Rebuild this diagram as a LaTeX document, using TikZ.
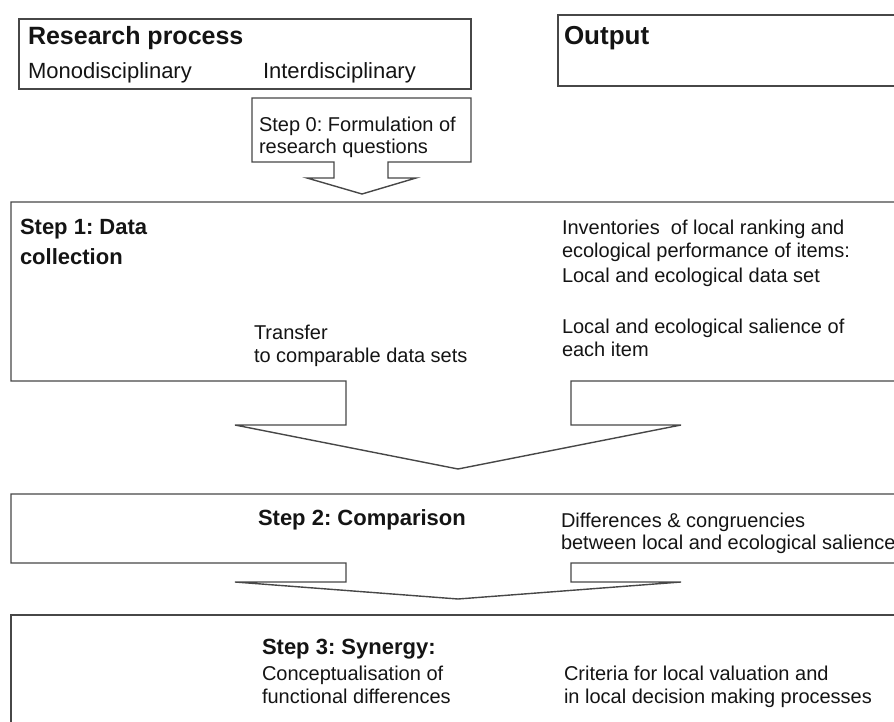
\documentclass[tikz,border=0pt]{standalone}
\usepackage{fontspec}
\setmainfont{Liberation Sans}
\frenchspacing
\begin{document}
\begin{tikzpicture}[x=1pt,y=-1pt,
  boxline/.style={draw=black!72,line width=1.4pt,line join=miter},
  txt/.style={anchor=base west,inner sep=0pt,outer sep=0pt,text=black!92,font=\fontsize{20}{24}\selectfont},
  hd/.style={txt,font=\fontsize{22}{26}\bfseries\selectfont},
  big/.style={txt,font=\fontsize{25}{30}\bfseries\selectfont},
  mid/.style={txt,font=\fontsize{22}{26}\selectfont}]
\useasboundingbox (0,0) rectangle (894,722);
\clip (0,0) rectangle (894,722);
% top boxes
\draw[boxline] (19,19) rectangle (471,89);
\draw[boxline] (558,15) rectangle (910,86);
% step 0 box with arrow
\draw[boxline] (252,98) -- (471,98) -- (471,162) -- (388,162) -- (388,178) -- (416,178)
  -- (362,194) -- (307,178) -- (334,178) -- (334,162) -- (252,162) -- cycle;
% step 1 box with arrow
\draw[boxline] (910,202) -- (11,202) -- (11,381) -- (346,381) -- (346,425) -- (235,425)
  -- (458,469) -- (681,425) -- (571,425) -- (571,381) -- (910,381);
% step 2 box with arrow
\draw[boxline] (910,494) -- (11,494) -- (11,563) -- (346,563) -- (346,582) -- (235,582)
  -- (458,599) -- (681,582) -- (571,582) -- (571,563) -- (910,563);
% step 3 box
\draw[boxline] (910,615) -- (11,615) -- (11,730);
% texts
\node[big] (rp) at (28,45) {Research process};
\node[mid] (mono) at (28,79) {Monodisciplinary};
\node[mid] (inter) at (263,79) {Interdisciplinary};
\node[txt,font=\fontsize{26}{30}\bfseries\selectfont] (out) at (564,45) {Output};
\node[txt] (s0a) at (259,132) {Step 0: Formulation of};
\node[txt] (s0b) at (259,154) {research questions};
\node[hd] (s1a) at (20,235) {Step 1: Data};
\node[hd] (s1b) at (20,264) {collection};
\node[txt] (inv1) at (562,234) {Inventories\ \ of local ranking and};
\node[txt] (inv2) at (562,258) {ecological performance of items:};
\node[txt] (inv3) at (562,282) {Local and ecological data set};
\node[txt] (sal1) at (562,333) {Local and ecological salience of};
\node[txt] (sal2) at (562,356) {each item};
\node[txt] (tr1) at (254,339) {Transfer};
\node[txt] (tr2) at (254,362) {to comparable data sets};
\node[hd] (s2) at (258,525) {Step 2: Comparison};
\node[txt] (d1) at (561,527) {Differences \& congruencies};
\node[txt] (d2) at (561,549) {between local and ecological salience};
\node[hd] (s3) at (262,654) {Step 3: Synergy:};
\node[txt] (c1) at (262,680) {Conceptualisation of};
\node[txt] (c2) at (262,703) {functional differences};
\node[txt] (cr1) at (564,680) {Criteria for local valuation and};
\node[txt] (cr2) at (564,703) {in local decision making processes};
\end{tikzpicture}
\end{document}
